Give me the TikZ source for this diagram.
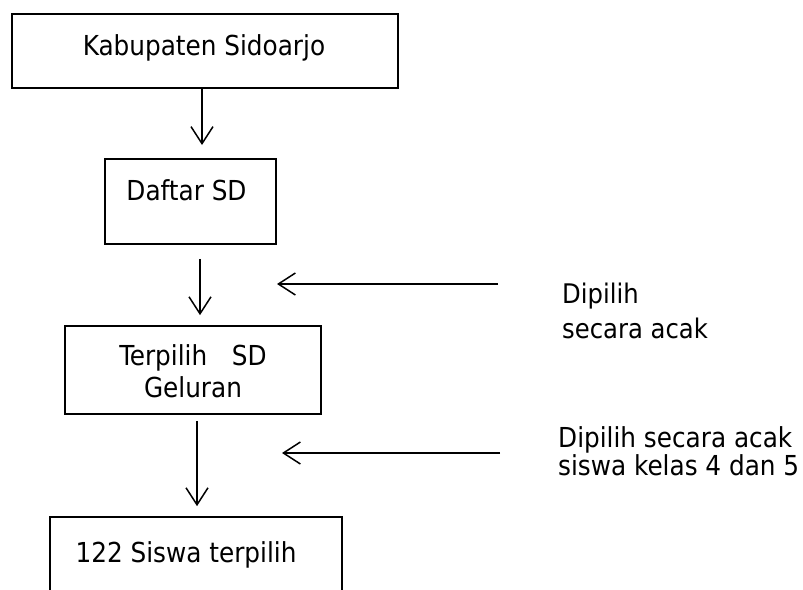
\documentclass[tikz,border=0pt]{standalone}
\usepackage{fontspec}
\setmainfont{DejaVu Sans Condensed}
\usetikzlibrary{arrows.meta}
\begin{document}
\begin{tikzpicture}[x=1pt,y=-1pt,
  box/.style={draw,line width=1.7pt,inner sep=0pt},
  lbl/.style={font=\fontsize{27.5}{32}\selectfont,anchor=base,inner sep=0pt},
  side/.style={inner sep=0pt,anchor=base west,align=left},
  arr/.style={-{Straight Barb[length=17pt,width=22pt,line width=1.5pt]},line width=1.5pt}]
\clip (0,0) rectangle (803,589);
% boxes
\node[box,minimum width=386pt,minimum height=74pt] (box1) at (205,51) {};
\node[box,minimum width=171pt,minimum height=85pt] (box2) at (190.5,201.5) {};
\node[box,minimum width=256pt,minimum height=88pt] (box3) at (193,370) {};
\node[box,minimum width=292pt,minimum height=103pt] (box4) at (196,568.5) {};
% texts
\node[lbl] (t1) at (204,55) {Kabupaten Sidoarjo};
\node[lbl] (t2) at (186.5,200) {Daftar SD};
\node[lbl,align=center] (t3) at (193,397) {Terpilih\hspace{0.9em}SD\\Geluran};
\node[lbl] (t4) at (186,562) {122 Siswa terpilih};
\node[side,font=\fontsize{27}{35}\selectfont] (s1) at (562,338) {Dipilih\\secara acak};
\node[side,font=\fontsize{27.5}{28}\selectfont] (s2) at (558,475) {Dipilih secara acak\\siswa kelas 4 dan 5};
% vertical arrows
\draw[arr] (box1.south -| 202,0) -- (202,145);
\draw[arr,shorten <=14pt,shorten >=10pt] (box2.south -| 200,0) -- (box3.north -| 200,0);
\draw[arr,shorten <=6pt,shorten >=10pt] (box3.south -| 197,0) -- (box4.north -| 197,0);
% side arrows
\coordinate (a1) at (498,284);
\coordinate (a2) at (500,453);
\draw[arr] (a1) -- (277,284);
\draw[arr] (a2) -- (282,453);
\end{tikzpicture}
\end{document}
